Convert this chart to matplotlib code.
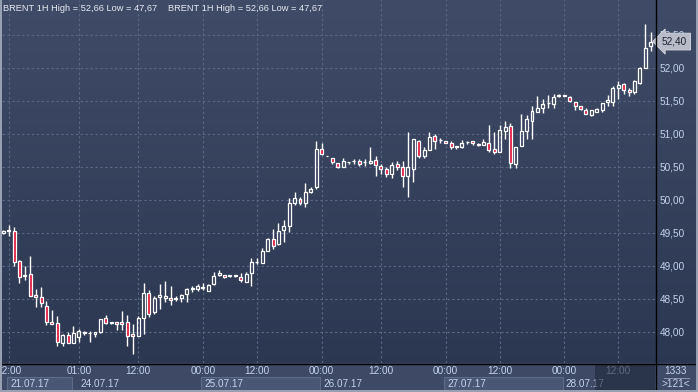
import matplotlib
matplotlib.use("Agg")
import matplotlib.pyplot as plt
import numpy as np
from matplotlib.patches import Rectangle
from matplotlib import transforms

plt.rcParams['font.family'] = ['Liberation Sans', 'DejaVu Sans']

# hourly BRENT candles, 21.07.17 12:00 -> 28.07.17 ~14:00 (121 bars)
opens = [49.50, 49.53, 49.53, 49.07, 48.85, 48.88, 48.56, 48.53, 48.40, 48.15,
         48.13, 47.83, 47.96, 47.83, 47.93, 48.00, 47.99, 47.97, 48.00, 48.21,
         48.14, 48.15, 48.15, 48.15, 47.97, 47.94, 48.21, 48.59, 48.30, 48.53,
         48.52, 48.52, 48.50, 48.51, 48.57, 48.65, 48.65, 48.67, 48.62, 48.72,
         48.86, 48.87, 48.85, 48.85, 48.84, 48.76, 48.89, 49.06, 49.05, 49.23,
         49.41, 49.33, 49.54, 49.61, 49.96, 50.02, 49.96, 50.12, 50.19, 50.78,
         50.67, 50.63, 50.56, 50.50, 50.57, 50.59, 50.59, 50.57, 50.56, 50.61,
         50.52, 50.47, 50.40, 50.55, 50.50, 50.37, 50.47, 50.90, 50.66, 50.76,
         50.97, 50.91, 50.90, 50.86, 50.81, 50.81, 50.88, 50.89, 50.84, 50.84,
         50.87, 50.78, 50.73, 51.04, 51.12, 50.54, 50.82, 51.05, 51.20, 51.34,
         51.39, 51.47, 51.45, 51.58, 51.58, 51.56, 51.48, 51.42, 51.37, 51.29,
         51.34, 51.36, 51.48, 51.49, 51.70, 51.75, 51.67, 51.64, 51.78, 52.00,
         52.33]
highs = [49.54, 49.62, 49.59, 49.09, 49.00, 49.15, 48.65, 48.68, 48.47, 48.33,
         48.24, 47.97, 48.00, 48.09, 48.04, 48.02, 48.02, 48.00, 48.20, 48.26,
         48.15, 48.15, 48.32, 48.26, 48.12, 48.24, 48.74, 48.64, 48.55, 48.72,
         48.77, 48.69, 48.55, 48.57, 48.66, 48.70, 48.72, 48.74, 48.72, 48.91,
         48.94, 48.87, 48.86, 48.87, 48.90, 48.91, 49.12, 49.12, 49.28, 49.43,
         49.56, 49.65, 49.70, 50.03, 50.12, 50.04, 50.26, 50.20, 50.89, 50.87,
         50.67, 50.63, 50.56, 50.63, 50.58, 50.62, 50.62, 50.62, 50.80, 50.66,
         50.55, 50.50, 50.58, 50.59, 50.59, 51.03, 50.93, 50.91, 50.81, 51.03,
         51.00, 50.94, 50.90, 50.89, 50.81, 50.91, 50.90, 50.89, 50.86, 50.92,
         51.14, 51.03, 51.14, 51.20, 51.16, 50.81, 51.30, 51.29, 51.42, 51.58,
         51.53, 51.59, 51.61, 51.61, 51.58, 51.58, 51.48, 51.43, 51.39, 51.37,
         51.40, 51.47, 51.59, 51.73, 51.81, 51.78, 51.69, 51.82, 52.02, 52.66,
         52.54]
lows = [49.49, 49.45, 49.00, 48.74, 48.79, 48.55, 48.38, 48.38, 48.10, 48.12,
        47.79, 47.79, 47.83, 47.83, 47.85, 47.96, 47.85, 47.93, 47.98, 48.12,
        48.12, 48.03, 48.03, 47.79, 47.67, 47.94, 47.97, 48.23, 48.27, 48.35,
        48.45, 48.41, 48.47, 48.46, 48.45, 48.60, 48.62, 48.64, 48.62, 48.71,
        48.85, 48.82, 48.84, 48.83, 48.76, 48.76, 48.70, 49.03, 49.04, 49.23,
        49.25, 49.32, 49.37, 49.52, 49.92, 49.92, 49.90, 50.11, 50.17, 50.68,
        50.66, 50.54, 50.48, 50.50, 50.54, 50.55, 50.52, 50.52, 50.54, 50.37,
        50.40, 50.35, 50.34, 50.45, 50.19, 50.05, 50.28, 50.64, 50.63, 50.76,
        50.77, 50.86, 50.86, 50.77, 50.78, 50.79, 50.85, 50.84, 50.82, 50.84,
        50.72, 50.69, 50.73, 50.92, 50.49, 50.49, 50.82, 50.92, 50.92, 51.34,
        51.32, 51.40, 51.40, 51.56, 51.58, 51.48, 51.37, 51.36, 51.30, 51.28,
        51.33, 51.33, 51.43, 51.42, 51.53, 51.61, 51.57, 51.61, 51.75, 52.00,
        52.25]
closes = [49.53, 49.55, 49.06, 48.84, 48.87, 48.55, 48.53, 48.44, 48.15, 48.12,
          47.85, 47.95, 47.83, 47.98, 48.01, 47.99, 47.98, 48.00, 48.20, 48.13,
          48.14, 48.12, 48.12, 47.94, 47.94, 48.21, 48.59, 48.28, 48.51, 48.56,
          48.55, 48.49, 48.52, 48.56, 48.65, 48.66, 48.69, 48.68, 48.71, 48.85,
          48.90, 48.84, 48.85, 48.86, 48.79, 48.88, 49.06, 49.06, 49.23, 49.41,
          49.31, 49.53, 49.60, 49.95, 50.03, 49.95, 50.12, 50.17, 50.78, 50.69,
          50.66, 50.57, 50.50, 50.59, 50.57, 50.59, 50.55, 50.57, 50.59, 50.53,
          50.47, 50.39, 50.53, 50.50, 50.37, 50.50, 50.92, 50.66, 50.76, 50.95,
          50.90, 50.91, 50.87, 50.81, 50.81, 50.87, 50.88, 50.86, 50.84, 50.88,
          50.76, 50.72, 51.06, 51.10, 50.56, 50.81, 51.04, 51.23, 51.35, 51.40,
          51.45, 51.47, 51.56, 51.58, 51.58, 51.50, 51.43, 51.38, 51.31, 51.36,
          51.38, 51.47, 51.52, 51.69, 51.74, 51.67, 51.63, 51.80, 52.00, 52.31,
          52.40]

# x-axis labels (bar index -> label)
time_idx = [1, 14, 25, 37, 47, 59, 70, 82, 92, 104, 114]
time_lbl = ['12:00', '01:00', '12:00', '00:00', '12:00', '00:00', '12:00',
            '00:00', '12:00', '00:00', '12:00']
day_idx = [1, 14, 37, 59, 82, 104]
day_end = [13, 37, 59, 82, 104, 121]
day_lbl = ['21.07.17', '24.07.17', '25.07.17', '26.07.17', '27.07.17', '28.07.17']
price_ticks = [48.0, 48.5, 49.0, 49.5, 50.0, 50.5, 51.0, 51.5, 52.0, 52.5]

FS = 7.2
TXT = '#c4d2ea'
W, H = 698, 392
fig = plt.figure(figsize=(W / 100, H / 100), dpi=100)

# background gradient over whole figure
bg = fig.add_axes([0, 0, 1, 1], zorder=0)
top = np.array([0x40, 0x4c, 0x67]) / 255
bot = np.array([0x2a, 0x35, 0x50]) / 255
t = np.linspace(0, 1, 256)[:, None]
grad = (top[None, :] * (1 - t) + bot[None, :] * t)[:, None, :]
bg.imshow(grad, extent=(0, W, H, 0), aspect='auto')
bg.set_xlim(0, W)
bg.set_ylim(H, 0)
bg.axis('off')
bg.add_patch(Rectangle((0, 363), 655, 29, color='#3d4965'))
bg.add_patch(Rectangle((655, 363), 43, 29, color='#3f4b67'))

# main chart axes
ax = fig.add_axes([2 / W, 29 / H, 653 / W, 363 / H], zorder=2)
ax.set_facecolor('none')
for s in ax.spines.values():
    s.set_visible(False)

o = np.array(opens)
h = np.array(highs)
l = np.array(lows)
c = np.array(closes)
x = np.arange(len(o))
up = c >= o
b_lo = np.minimum(o, c)
b_hi = np.maximum(o, c)

ax.vlines(x, b_hi, h, color='white', lw=1.0, zorder=3)
ax.vlines(x, l, b_lo, color='white', lw=1.0, zorder=3)
ax.bar(x, np.maximum(b_hi - b_lo, 0.006), bottom=b_lo, width=0.55,
       color=['none' if u else '#e3173e' for u in up],
       edgecolor='white', linewidth=0.9, zorder=4)

ax.set_xlim(-0.24, 120.8)
ax.set_ylim(47.53, 53.03)

ax.set_yticks(price_ticks)
ax.set_yticklabels([f'{p:.2f}'.replace('.', ',') for p in price_ticks])
ax.yaxis.tick_right()
ax.set_xticks(time_idx)
ax.set_xticklabels(time_lbl)
ax.tick_params(axis='y', length=0, pad=3.6, labelsize=FS, labelcolor=TXT)
ax.tick_params(axis='x', length=0, pad=2.5, labelsize=FS, labelcolor=TXT)
ax.grid(True, color='#5b6782', lw=0.8, ls=(0, (2.2, 2.2)))
ax.set_axisbelow(True)

# date row with alternating boxes
trans = transforms.blended_transform_factory(ax.transData, ax.transAxes)
for k, (d0, d1, lbl) in enumerate(zip(day_idx, day_end, day_lbl)):
    if k % 2 == 0:
        ax.add_patch(Rectangle((d0 - 0.3, -0.0745), d1 - d0, 0.036,
                               transform=trans, clip_on=False,
                               fc='#4a5774', ec='#5e6b88', lw=0.8, zorder=1))
    ax.text(d0 + 0.25, -0.0565, lbl, transform=trans, ha='left', va='center',
            fontsize=FS, color=TXT, clip_on=False)

# last price marker
last = closes[-1]
ax.annotate(f'{last:.2f}'.replace('.', ','), xy=(1.0, last),
            xycoords=('axes fraction', 'data'), xytext=(5, 0),
            textcoords='offset points', ha='left', va='center',
            fontsize=FS, color='#1c2232', annotation_clip=False,
            bbox=dict(boxstyle='larrow,pad=0.34', fc='#b8bcc8', ec='#d4d8e0', lw=0.6),
            zorder=6)

# overlay: frame lines, texts
ov = fig.add_axes([0, 0, 1, 1], zorder=3)
ov.set_facecolor('none')
ov.set_xlim(0, W)
ov.set_ylim(H, 0)
ov.axis('off')
ov.add_patch(Rectangle((595, 363.5), 60, 27, color='#1e2639', alpha=0.6, lw=0))
ov.plot([0, W], [363.5, 363.5], color='black', lw=1.0)
ov.plot([655.5, 655.5], [0, H], color='black', lw=1.0)
ov.plot([0.7, 0.7], [0, H], color='#9aa3b5', lw=1.4)
ov.plot([697.3, 697.3], [0, H], color='#9aa3b5', lw=1.4)
ov.plot([0, W], [391.3, 391.3], color='#9aa3b5', lw=1.4)

ov.text(676, 371, '1333', ha='center', va='center', fontsize=FS, color=TXT)
ov.plot([664, 689], [377.5, 377.5], color='#8c98b0', lw=0.7)
ov.text(676, 384, '>121<', ha='center', va='center', fontsize=FS, color=TXT)

legend = 'BRENT 1H High = 52,66 Low = 47,67'
ov.text(3, 8, legend, ha='left', va='center', fontsize=6.7, color='#e4e9f2')
ov.text(168, 8, legend, ha='left', va='center', fontsize=6.7, color='#e4e9f2')

fig.savefig('out.png', dpi=100)
